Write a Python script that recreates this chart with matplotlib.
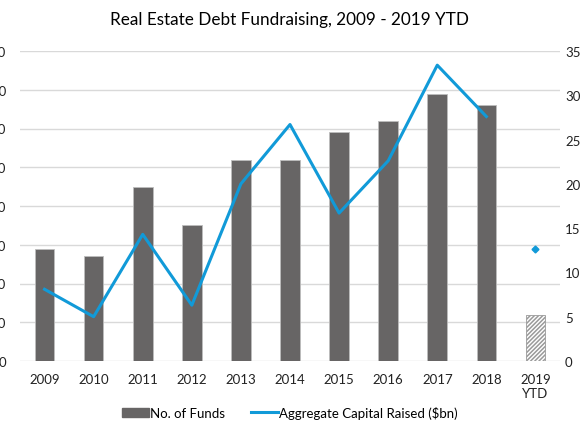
import numpy as np
import matplotlib.pyplot as plt
from matplotlib.patches import Patch
from matplotlib.lines import Line2D

years = ["2009", "2010", "2011", "2012", "2013", "2014", "2015", "2016", "2017", "2018", "2019\nYTD"]
no_of_funds = [29, 27, 45, 35, 52, 52, 59, 62, 69, 66, 12]
capital_raised = [8.1, 5.0, 14.3, 6.3, 20.0, 26.7, 16.7, 22.6, 33.4, 27.6]
capital_ytd = 12.6

bar_col = "#676565"
line_col = "#119ad8"
grid_col = "#d9d9d9"

plt.rcParams["font.family"] = ["Lato", "DejaVu Sans"]
plt.rcParams["hatch.color"] = "#707070"
plt.rcParams["hatch.linewidth"] = 1.1

fig = plt.figure(figsize=(5.8, 4.35), dpi=100)
ax = fig.add_axes([20/580, 73/435, 540/580, 310/435])
x = np.arange(len(years))

ax.bar(x[:-1], no_of_funds[:-1], width=0.4, color=bar_col, edgecolor="#bdbdbd", linewidth=0.6, zorder=2)
ax.bar(x[-1], no_of_funds[-1], width=0.4, color="white", edgecolor="#9a9a9a", hatch="////////", linewidth=0.6, zorder=2)

ax.set_ylim(0, 80)
ax.set_yticks(range(0, 81, 10))
ax.set_xlim(-0.5, len(years) - 0.5)
ax.set_xticks(x)
ax.set_xticklabels(years, fontsize=9.5)
ax.yaxis.grid(True, color=grid_col, linewidth=1, zorder=0)
ax.set_axisbelow(True)
for s in ax.spines.values():
    s.set_visible(False)
ax.tick_params(axis="both", length=0, labelsize=9.5, colors="#222222")
ax.tick_params(axis="y", pad=10)
ax.tick_params(axis="x", pad=9)

ax2 = ax.twinx()
ax2.plot(x[:-1], capital_raised, color=line_col, linewidth=2.2, zorder=3)
ax2.plot(x[-1], capital_ytd, marker="D", color=line_col, markersize=3.5, linestyle="none")
ax2.set_ylim(0, 35)
ax2.set_yticks(range(0, 36, 5))
for s in ax2.spines.values():
    s.set_visible(False)
ax2.tick_params(axis="y", length=0, labelsize=9.5, pad=3.6, colors="#222222")

fig.suptitle("Real Estate Debt Fundraising, 2009 - 2019 YTD", fontsize=12.3, y=0.972)

handles = [Patch(facecolor=bar_col, edgecolor=bar_col, label="No. of Funds"),
           Line2D([0], [0], color=line_col, linewidth=2.2, label="Aggregate Capital Raised ($bn)")]
fig.legend(handles=handles, loc="center", bbox_to_anchor=(0.5, 0.05), ncol=2, frameon=False,
           fontsize=9.5, handlelength=2.0, handletextpad=0.1, columnspacing=2.0)

fig.savefig("out.png", dpi=100)
